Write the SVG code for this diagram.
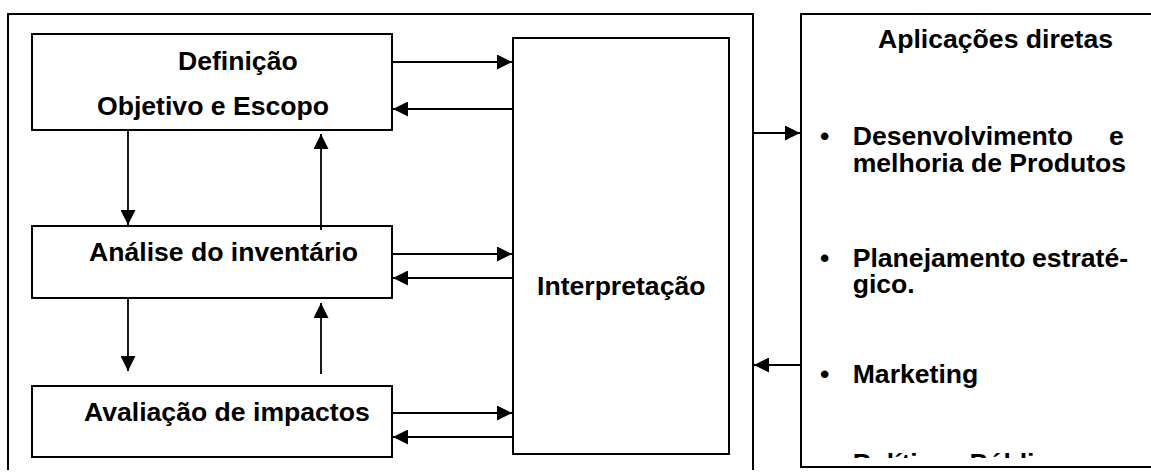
<svg xmlns="http://www.w3.org/2000/svg" width="1151" height="476" viewBox="0 0 1151 476">
  <style>
    .frame { fill: none; stroke: #000; stroke-width: 2; }
    .box { fill: #fff; stroke: #000; stroke-width: 2; }
    .lbl { font-family: "Liberation Sans", Arial, sans-serif; font-weight: bold; font-size: 26.6px; fill: #000; }
    .conn { fill: none; stroke: #000; stroke-width: 1.8; }
  </style>
  <defs>
    <marker id="head" viewBox="0 0 15 15" refX="15" refY="7.5" markerWidth="15" markerHeight="15" markerUnits="userSpaceOnUse" orient="auto">
      <path d="M0,0 L15,7.5 L0,15 Z" fill="#000"/>
    </marker>
    <clipPath id="appClip">
      <rect x="802" y="15" width="360" height="443"/>
    </clipPath>
  </defs>

  <rect width="1151" height="476" fill="#fff"/>

  <!-- LCA phases container (open at the bottom edge) -->
  <g id="phases-frame">
    <path class="frame" d="M8,470 V14 H753 V470"/>
  </g>

  <g id="definicao">
    <rect class="box" x="32" y="34" width="360" height="96"/>
    <text class="lbl"><tspan x="178" y="70">Definição</tspan><tspan x="97" y="115">Objetivo e Escopo</tspan></text>
  </g>

  <g id="analise">
    <rect class="box" x="32" y="226" width="360" height="72"/>
    <text class="lbl" x="89" y="261">Análise do inventário</text>
  </g>

  <g id="avaliacao">
    <rect class="box" x="32" y="386" width="360" height="71"/>
    <text class="lbl" x="84" y="421">Avaliação de impactos</text>
  </g>

  <g id="interpretacao">
    <rect class="box" x="513" y="38" width="216" height="416"/>
    <text class="lbl" x="537" y="295">Interpretação</text>
  </g>

  <g id="aplicacoes">
    <rect class="box" x="801" y="14" width="360" height="453"/>
    <g clip-path="url(#appClip)">
      <text class="lbl" x="878" y="48">Aplicações diretas</text>
      <!-- bullet list, justified lines -->
      <text class="lbl"><tspan x="820" y="145">•</tspan><tspan x="852.7" y="145">Desenvolvimento</tspan><tspan x="1109" y="145">e</tspan><tspan x="852.7" y="171.7">melhoria de Produtos</tspan></text>
      <text class="lbl"><tspan x="820" y="266.7">•</tspan><tspan x="852.7" y="266.7">Planejamento</tspan><tspan x="1032" y="266.7">estraté-</tspan><tspan x="852.7" y="293.3">gico.</tspan></text>
      <text class="lbl"><tspan x="820" y="383">•</tspan><tspan x="852.7" y="383">Marketing</tspan></text>
      <text class="lbl"><tspan x="820" y="472">•</tspan><tspan x="852.7" y="472">Políticas Públicas</tspan></text>
    </g>
  </g>

  <g id="connectors">
    <!-- between phases -->
    <line class="conn" x1="128" y1="130" x2="128" y2="225" marker-end="url(#head)"/>
    <line class="conn" x1="321" y1="230" x2="321" y2="134" marker-end="url(#head)"/>
    <line class="conn" x1="128" y1="298" x2="128" y2="371" marker-end="url(#head)"/>
    <line class="conn" x1="321" y1="374" x2="321" y2="303" marker-end="url(#head)"/>
    <!-- phases and interpretation -->
    <line class="conn" x1="392" y1="62" x2="512" y2="62" marker-end="url(#head)"/>
    <line class="conn" x1="513" y1="109" x2="393" y2="109" marker-end="url(#head)"/>
    <line class="conn" x1="392" y1="254" x2="512" y2="254" marker-end="url(#head)"/>
    <line class="conn" x1="513" y1="278" x2="393" y2="278" marker-end="url(#head)"/>
    <line class="conn" x1="392" y1="413" x2="512" y2="413" marker-end="url(#head)"/>
    <line class="conn" x1="513" y1="437" x2="393" y2="437" marker-end="url(#head)"/>
    <!-- to and from direct applications -->
    <line class="conn" x1="753" y1="133" x2="800" y2="133" marker-end="url(#head)"/>
    <line class="conn" x1="801" y1="365" x2="754" y2="365" marker-end="url(#head)"/>
  </g>
</svg>
